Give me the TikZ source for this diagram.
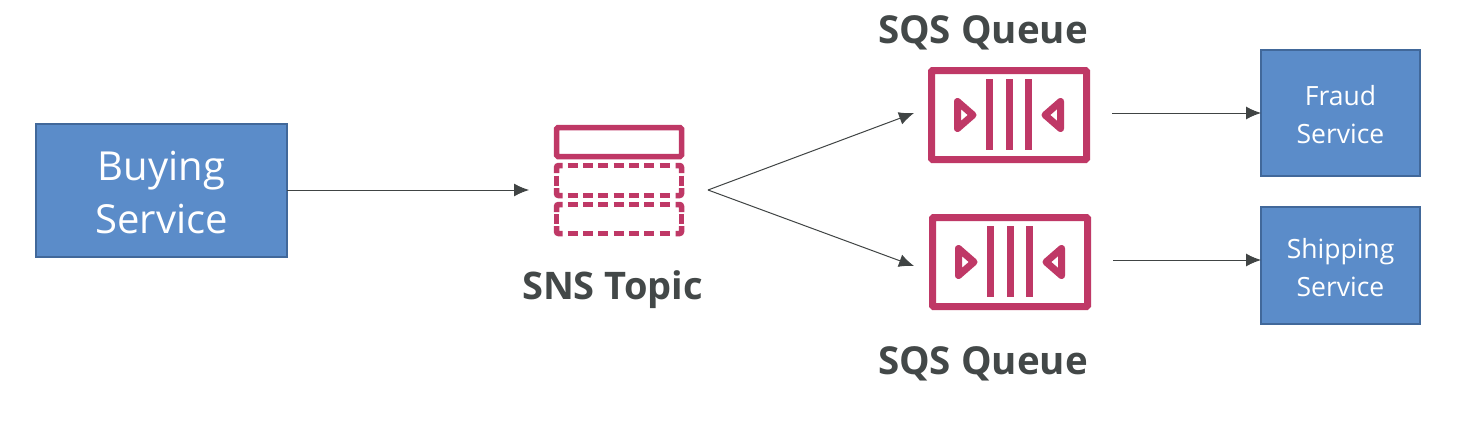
\documentclass[tikz,border=0pt]{standalone}
\usepackage{fontspec}
\setmainfont{Open Sans}
\usetikzlibrary{arrows.meta}
\definecolor{pinkc}{HTML}{BF3866}
\definecolor{bluec}{HTML}{5B8CC9}
\definecolor{blueb}{HTML}{41689A}
\definecolor{txt}{HTML}{434848}
\definecolor{linec}{HTML}{404444}
\newcommand{\snsdashes}[2]{%
  \foreach \i in {0,...,6} {
    \draw[dashic] ({567.7+15.33*\i},#1) -- ++(10,0);
    \draw[dashic] ({567.7+15.33*\i},#2) -- ++(10,0);
  }
  \draw[dashic,rounded corners=2pt] (562.5,#1) -- (556.5,#1) -- (556.5,#1+7.5);
  \draw[dashic,rounded corners=2pt] (675.5,#1) -- (681.5,#1) -- (681.5,#1+7.5);
  \draw[dashic,rounded corners=2pt] (562.5,#2) -- (556.5,#2) -- (556.5,#2-7.5);
  \draw[dashic,rounded corners=2pt] (675.5,#2) -- (681.5,#2) -- (681.5,#2-7.5);
  \draw[dashic] (556.5,{(#1+#2)/2-5}) -- ++(0,10);
  \draw[dashic] (681.5,{(#1+#2)/2-5}) -- ++(0,10);
}
\tikzset{
  x=1pt,y=-1pt,
  svc/.style={draw=blueb,line width=2pt,fill=bluec,text=white,align=center,inner sep=0pt,outer sep=0pt,anchor=north west},
  lbl/.style={text=txt,font=\bfseries\fontsize{38.5}{42}\selectfont,inner sep=0pt},
  conn/.style={draw=linec,line width=1pt,-{Latex[length=15pt,width=13pt]}},
  solidic/.style={draw=pinkc,line width=5.5pt,rounded corners=1.5pt},
  dashic/.style={draw=pinkc,line width=5.5pt},
  sqsline/.style={draw=pinkc,line width=7pt,line join=round},
  sqsbar/.style={draw=pinkc,line width=7pt},
  sqsic/.pic={
    \draw[sqsline,line join=miter,rounded corners=1pt] (-77.5,-44.5) rectangle (77.5,44.5);
    \draw[sqsbar] (-19.5,-36) -- (-19.5,35) (0.5,-36) -- (0.5,35) (19.5,-36) -- (19.5,35);
    \draw[sqsline] (-51.5,-13.5) -- (-36,0) -- (-51.5,13.5) -- cycle;
    \draw[sqsline] (51.5,-13.5) -- (36,0) -- (51.5,13.5) -- cycle;
  }
}
\begin{document}
\begin{tikzpicture}
\useasboundingbox (0,0) rectangle (1474,420);
\fill[white] (0,0) rectangle (1474,420);
\node[svc,minimum width=251pt,minimum height=133pt,font=\fontsize{40}{53}\selectfont] (buy) at (36,124) {\rule{0pt}{34pt}Buying\\Service};
\node[svc,minimum width=159pt,minimum height=125pt,font=\fontsize{26.5}{38}\selectfont] (fraud) at (1261,50.5) {\rule{0pt}{24pt}Fraud\\Service};
\node[svc,minimum width=159pt,minimum height=117pt,font=\fontsize{26.5}{38}\selectfont] (ship) at (1261,207) {\rule{0pt}{24pt}Shipping\\Service};
% SNS icon
\draw[solidic] (556.5,127.5) rectangle (681.5,156.5);
\snsdashes{165.5}{195.5}
\snsdashes{204.5}{233.5}
\coordinate (snsin) at (529,190);
\coordinate (snsout) at (708,190);
\node[lbl,font=\bfseries\fontsize{38}{42}\selectfont] (snsl) at (612.5,289.5) {SNS Topic};
% SQS icons
\pic at (1009,115) {sqsic};
\pic at (1010,262) {sqsic};
\coordinate (q1in) at (914,113);
\coordinate (q2in) at (914,266);
\coordinate (q1out) at (1112,113);
\coordinate (q2out) at (1113,260);
\node[lbl] (q1l) at (983,33) {SQS Queue};
\node[lbl] (q2l) at (983,364) {SQS Queue};
% connectors
\draw[conn] (buy.east |- snsin) -- (snsin);
\draw[conn] (snsout) -- (q1in);
\draw[conn] (snsout) -- (q2in);
\draw[conn] (q1out) -- (q1out -| fraud.west);
\draw[conn] (q2out) -- (q2out -| ship.west);
\end{tikzpicture}
\end{document}
